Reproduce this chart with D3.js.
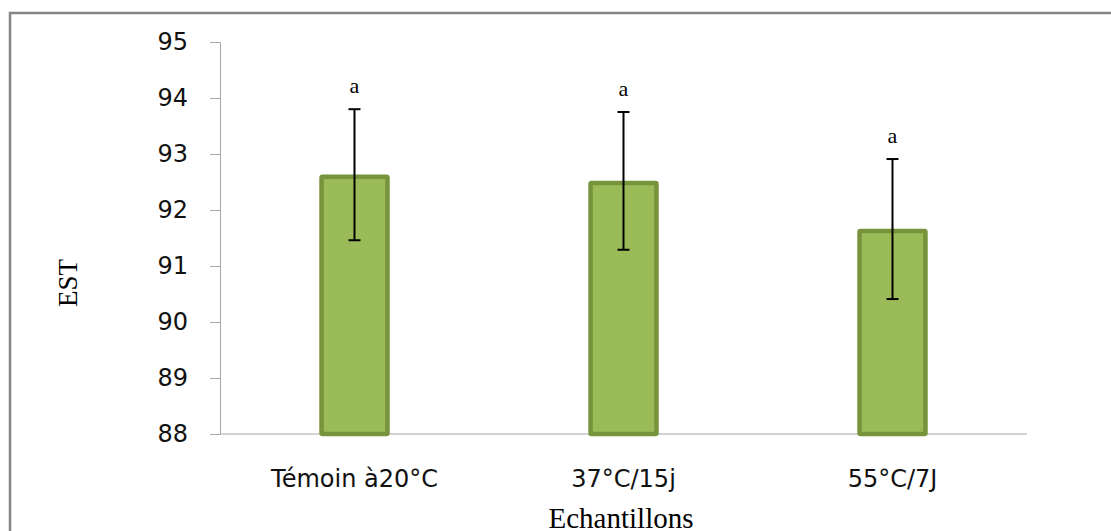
<!DOCTYPE html>
<html>
<head>
<meta charset="utf-8">
<script src="https://cdn.jsdelivr.net/npm/d3@7"></script>
<style>
  body { margin: 0; background: #fff; }
  .tick text { font-family: "DejaVu Sans", sans-serif; }
</style>
</head>
<body>
<div id="chart"></div>
<script>
var categories = ["Témoin à20°C", "37°C/15j", "55°C/7J"];
var means = [92.63, 92.52, 91.66];
var errors = [1.17, 1.23, 1.25];
var letters = ["a", "a", "a"];
var yTicks = [88, 89, 90, 91, 92, 93, 94, 95];

var width = 1111, height = 531;
var margin = {top: 42, right: 84, bottom: 97, left: 220};

var svg = d3.select("#chart").append("svg")
    .attr("width", width)
    .attr("height", height);

// outer frame
svg.append("rect")
    .attr("x", 10).attr("y", 13)
    .attr("width", width + 20).attr("height", height + 20)
    .attr("fill", "none")
    .attr("stroke", "#858585")
    .attr("stroke-width", 2.5);

var x = d3.scaleBand()
    .domain(categories)
    .range([margin.left, width - margin.right])
    .paddingInner(0.74)
    .paddingOuter(0.37);

var y = d3.scaleLinear()
    .domain([88, 95])
    .range([height - margin.bottom, margin.top]);

var yAxis = svg.append("g")
    .attr("transform", "translate(" + margin.left + ",0)")
    .call(d3.axisLeft(y).tickValues(yTicks).tickSize(10).tickPadding(22).tickFormat(d3.format("d")));
yAxis.select(".domain").attr("stroke", "#a6a6a6");
yAxis.selectAll(".tick line").attr("stroke", "#a6a6a6");
yAxis.selectAll(".tick text").attr("font-size", 24).attr("fill", "#111");

var xAxis = svg.append("g")
    .attr("transform", "translate(0," + (height - margin.bottom) + ")")
    .call(d3.axisBottom(x).tickSize(0).tickPadding(36));
xAxis.select(".domain").attr("stroke", "#a6a6a6").attr("d", "M" + margin.left + ",0H" + (width - margin.right));
xAxis.selectAll(".tick text").attr("font-size", 24).attr("fill", "#111");

var bars = svg.append("g").selectAll("g")
    .data(categories)
    .enter().append("g");

bars.append("rect")
    .attr("x", function(d) { return x(d) + 2; })
    .attr("y", function(d, i) { return y(means[i]) + 2; })
    .attr("width", x.bandwidth() - 4)
    .attr("height", function(d, i) { return y(88) - y(means[i]) - 2; })
    .attr("fill", "#9bbb59")
    .attr("stroke", "#77933c")
    .attr("stroke-width", 4.5)
    .attr("rx", 1);

var cx = function(d) { return x(d) + x.bandwidth() / 2; };

bars.append("line")
    .attr("x1", cx).attr("x2", cx)
    .attr("y1", function(d, i) { return y(means[i] + errors[i]); })
    .attr("y2", function(d, i) { return y(means[i] - errors[i]); })
    .attr("stroke", "#000").attr("stroke-width", 2);

[1, -1].forEach(function(s) {
  bars.append("line")
      .attr("x1", function(d) { return cx(d) - 6; })
      .attr("x2", function(d) { return cx(d) + 6; })
      .attr("y1", function(d, i) { return y(means[i] + s * errors[i]); })
      .attr("y2", function(d, i) { return y(means[i] + s * errors[i]); })
      .attr("stroke", "#000").attr("stroke-width", 2);
});

bars.append("text")
    .attr("x", cx)
    .attr("y", function(d, i) { return y(means[i] + errors[i]) - 16; })
    .attr("text-anchor", "middle")
    .attr("font-family", "Liberation Serif, serif")
    .attr("font-size", 22)
    .text(function(d, i) { return letters[i]; });

svg.append("text")
    .attr("transform", "translate(77,283) rotate(-90)")
    .attr("text-anchor", "middle")
    .attr("font-family", "Liberation Serif, serif")
    .attr("font-size", 27)
    .text("EST");

svg.append("text")
    .attr("x", 621).attr("y", 528)
    .attr("text-anchor", "middle")
    .attr("font-family", "Liberation Serif, serif")
    .attr("font-size", 29)
    .text("Echantillons");
</script>
</body>
</html>
